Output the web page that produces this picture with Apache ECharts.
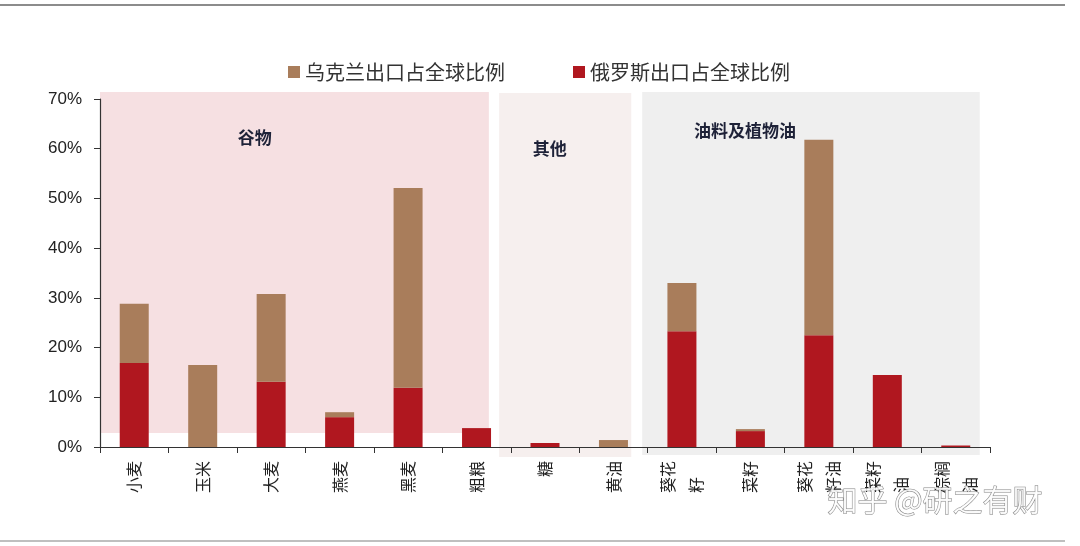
<!DOCTYPE html>
<html><head><meta charset="utf-8">
<script src="https://cdn.jsdelivr.net/npm/echarts@6/dist/echarts.min.js"></script>
<style>html,body{margin:0;padding:0;background:#fff;}#c{width:1080px;height:546px;}</style>
</head><body><div id="c"></div>
<script>
var categories = ['小麦','玉米','大麦','燕麦','黑麦','粗粮','糖','黄油','葵花\n籽\u3000','菜籽','葵花\n籽油','菜籽\n油\u3000','棕榈\n油\u3000'];
var russia  = [16.9, 0, 13.1, 6.0, 11.9, 3.8, 0.8, 0, 23.3, 3.2, 22.5, 14.5, 0.3];
var ukraine = [11.9, 16.5, 17.7, 1.0, 40.2, 0, 0, 1.4, 9.7, 0.4, 39.3, 0, 0];
var yTicks = [0, 10, 20, 30, 40, 50, 60, 70];
var groups = [
  {name:'谷物', from:0, to:5.68, top:71.4, bottom:2.8, color:'#f6e0e2', lx:2.26, ly:62.3},
  {name:'其他', from:5.83, to:7.76, top:71.2, bottom:-2.0, color:'#f6efee', lx:6.57, ly:60.0},
  {name:'油料及植物油', from:7.92, to:12.85, top:71.4, bottom:-1.6, color:'#efefef', lx:9.42, ly:63.6}
];

var W = 1080, H = 546;
var gl = 100, gr = 90, gt = 99, gb = 99;
var gw = W - gl - gr, gh = H - gt - gb;
var band = gw / categories.length;
function ex(f){ return gl + band * f; }
function py(v){ return gt + gh * (1 - v / 70); }

var graphics = [
  {type:'line', shape:{x1:0,y1:5,x2:1065,y2:5}, style:{stroke:'#666',lineWidth:1.5}, z:0},
  {type:'line', shape:{x1:0,y1:541,x2:1065,y2:541}, style:{stroke:'#aaa',lineWidth:1.5}, z:0}
];
groups.forEach(function(g){
  var x1 = ex(g.from), x2 = ex(g.to), y1 = py(g.top), y2 = py(g.bottom);
  graphics.push({type:'rect', shape:{x:x1,y:y1,width:x2-x1,height:y2-y1}, style:{fill:g.color}, z:-10});
  graphics.push({type:'text', x:ex(g.lx), y:py(g.ly), style:{text:g.name, fill:'#1e2238', font:'bold 17px "Noto Sans CJK SC"', textAlign:'center', textVerticalAlign:'middle'}, z:5});
});
graphics.push({type:'text', x:935, y:500, style:{text:'知乎 @研之有财', fill:'rgba(255,255,255,0.85)', stroke:'rgba(90,90,90,0.75)', lineWidth:1, font:'30px "Noto Sans CJK SC"', textAlign:'center', textVerticalAlign:'middle'}, z:20});

var chart = echarts.init(document.getElementById('c'), null, {renderer:'canvas'});
chart.setOption({
  animation:false,
  backgroundColor:'#fff',
  legend:{
    data:['乌克兰出口占全球比例','俄罗斯出口占全球比例'],
    left:283, top:57, itemWidth:12, itemHeight:12, itemGap:68,
    icon:'rect',
    textStyle:{fontSize:20, color:'#333', fontFamily:'Noto Sans CJK SC'}
  },
  grid:{left:gl, right:gr, top:gt, bottom:gb},
  xAxis:{
    type:'category', data:categories, boundaryGap:true,
    axisLine:{lineStyle:{color:'#333', width:1.2}},
    axisTick:{show:true, alignWithLabel:false, length:6, lineStyle:{color:'#333'}},
    axisLabel:{rotate:90, margin:14, fontSize:16, color:'#222', fontFamily:'Noto Sans CJK SC', lineHeight:28, interval:0}
  },
  yAxis:{
    type:'value', min:0, max:70, interval:10,
    axisLine:{show:true, lineStyle:{color:'#333', width:1.2}},
    axisTick:{show:true, length:6, lineStyle:{color:'#333'}},
    splitLine:{show:false},
    axisLabel:{formatter:function(v){return v+'%';}, fontSize:17, color:'#222', fontFamily:'Liberation Sans', margin:18, customValues:yTicks}
  },
  graphic:graphics,
  series:[
    {name:'俄罗斯出口占全球比例', type:'bar', stack:'s', data:russia, barWidth:29, itemStyle:{color:'#b0171f'}, z:2},
    {name:'乌克兰出口占全球比例', type:'bar', stack:'s', data:ukraine, barWidth:29, itemStyle:{color:'#a97d5b'}, z:2}
  ]
});
</script></body></html>
